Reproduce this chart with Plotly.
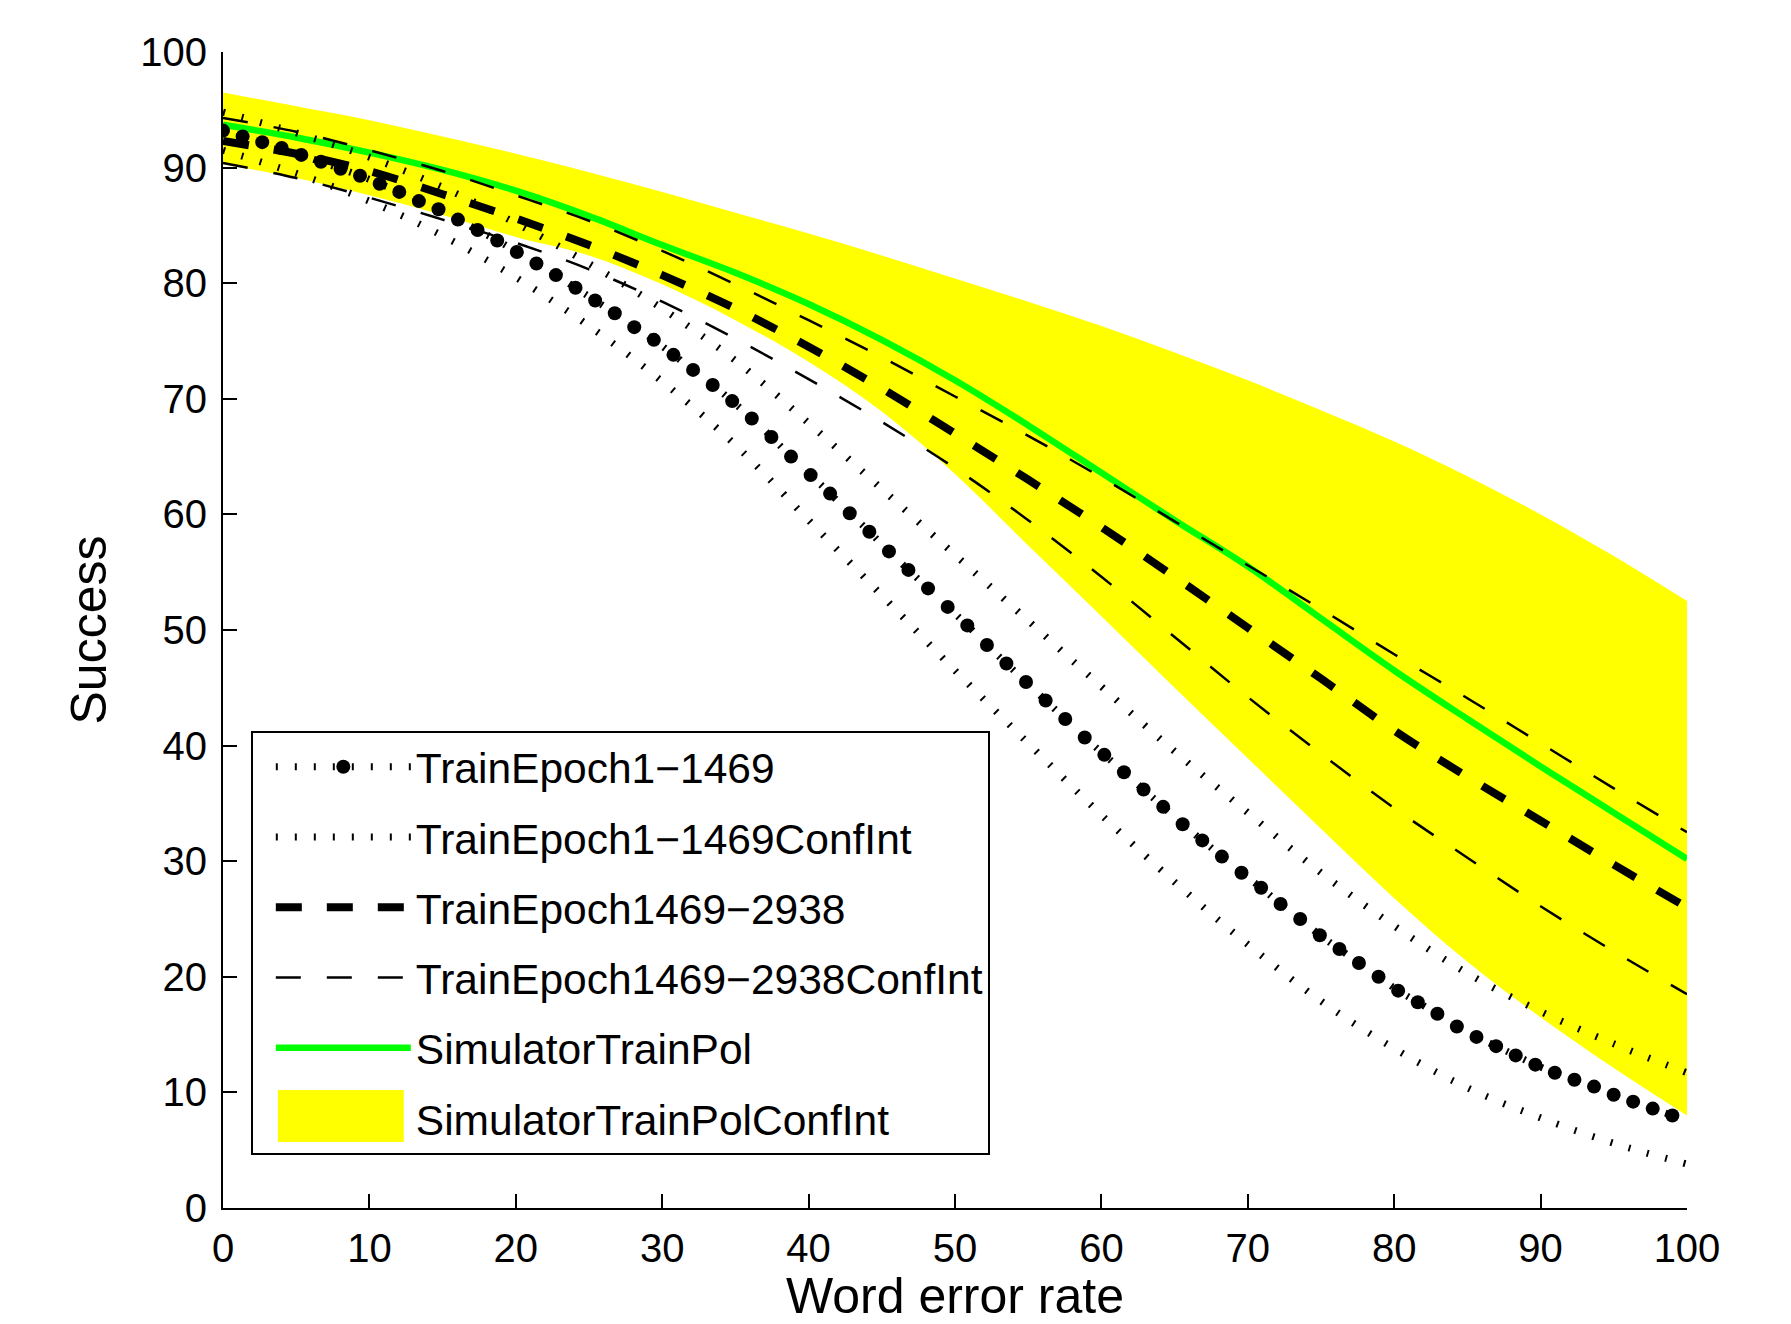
import plotly.graph_objects as go

# ---------------- data ----------------
# common x grid for the smooth curves (word error rate)
wer = [0, 5, 10, 15, 20, 25, 30, 35, 40, 45, 50, 55, 60, 65, 70, 75, 80, 85, 90, 95, 100]

sim_mean = [93.7, 92.6, 91.3, 89.8, 88.0, 85.8, 83.3, 80.9, 78.2, 75.1, 71.6, 67.7, 63.6,
            59.5, 55.5, 51.0, 46.5, 42.3, 38.2, 34.2, 30.2]
sim_upper = [96.5, 95.3, 94.1, 92.7, 91.2, 89.6, 87.9, 86.1, 84.3, 82.4, 80.4, 78.4, 76.3,
             74.0, 71.6, 69.0, 66.3, 63.3, 60.0, 56.4, 52.5]
sim_lower = [90.3, 89.1, 87.6, 85.9, 84.0, 82.4, 79.9, 76.8, 73.2, 68.9, 63.5, 57.3, 51.2,
             45.0, 38.9, 32.8, 26.8, 21.3, 16.5, 12.1, 8.0]

ep2_mean = [92.3, 91.2, 89.7, 87.7, 85.6, 83.3, 80.7, 77.8, 74.5, 70.9, 67.0, 63.0, 58.9,
            54.6, 50.2, 45.8, 41.3, 37.3, 33.5, 29.7, 26.0]
ep2_upper = [94.3, 93.1, 91.5, 89.7, 87.6, 85.4, 82.8, 79.9, 76.8, 73.6, 70.2, 66.8, 63.2,
             59.4, 55.6, 51.8, 47.9, 44.1, 40.2, 36.3, 32.5]
ep2_lower = [90.4, 89.1, 87.4, 85.5, 83.5, 81.2, 78.4, 75.2, 71.7, 68.0, 64.0, 59.5, 54.6,
             49.4, 44.2, 39.3, 34.6, 30.3, 26.1, 22.2, 18.5]

ep1_upper = [94.8, 93.0, 90.9, 88.3, 85.2, 81.7, 77.8, 73.3, 67.9, 62.2, 56.5, 50.8, 45.1,
             39.5, 34.2, 29.0, 24.4, 20.3, 17.0, 14.2, 11.7]
ep1_lower = [91.5, 89.5, 87.1, 84.1, 80.5, 76.3, 71.5, 66.0, 59.5, 53.0, 46.5, 40.2, 34.0,
             28.2, 22.8, 17.9, 13.8, 10.4, 7.8, 5.6, 3.8]

# sampled points of the first-epoch mean curve (one per marker)
ep1_x = [0.00, 1.34, 2.68, 4.01, 5.35, 6.69, 8.03, 9.36, 10.70, 12.04, 13.38, 14.72, 16.05,
         17.39, 18.73, 20.07, 21.41, 22.74, 24.08, 25.42, 26.76, 28.09, 29.43, 30.77, 32.11,
         33.45, 34.78, 36.12, 37.46, 38.80, 40.14, 41.47, 42.81, 44.15, 45.49, 46.82, 48.16,
         49.50, 50.84, 52.18, 53.51, 54.85, 56.19, 57.53, 58.86, 60.20, 61.54, 62.88, 64.22,
         65.55, 66.89, 68.23, 69.57, 70.91, 72.24, 73.58, 74.92, 76.26, 77.59, 78.93, 80.27,
         81.61, 82.95, 84.28, 85.62, 86.96, 88.30, 89.64, 90.97, 92.31, 93.65, 94.99, 96.32,
         97.66, 99.00]
ep1_mean = [93.2, 92.7, 92.2, 91.7, 91.1, 90.5, 89.9, 89.3, 88.6, 87.9, 87.1, 86.4, 85.5,
            84.6, 83.7, 82.7, 81.7, 80.7, 79.6, 78.5, 77.4, 76.2, 75.1, 73.8, 72.5, 71.2,
            69.8, 68.3, 66.7, 65.0, 63.4, 61.8, 60.1, 58.5, 56.8, 55.2, 53.6, 52.0, 50.4,
            48.7, 47.1, 45.5, 43.9, 42.3, 40.7, 39.2, 37.7, 36.2, 34.7, 33.2, 31.8, 30.4,
            29.0, 27.7, 26.3, 25.0, 23.6, 22.4, 21.2, 20.0, 18.8, 17.8, 16.8, 15.7, 14.8,
            14.0, 13.2, 12.4, 11.7, 11.1, 10.5, 9.8, 9.2, 8.6, 8.0]

names = ["TrainEpoch1\u22121469", "TrainEpoch1\u22121469ConfInt", "TrainEpoch1469\u22122938",
         "TrainEpoch1469\u22122938ConfInt", "SimulatorTrainPol", "SimulatorTrainPolConfInt"]

x_ticks = [0, 10, 20, 30, 40, 50, 60, 70, 80, 90, 100]
y_ticks = [0, 10, 20, 30, 40, 50, 60, 70, 80, 90, 100]

# ---------------- styles ----------------
YELLOW = "#FFFF00"
GREEN = "#00FF00"
BLACK = "#000000"
DOT = "2px,17px"
THIN_DASH = "25px,26px"
BOLD_DASH = "26px,25px"
FONT = "Liberation Sans, Arial, Helvetica, sans-serif"

fig = go.Figure()

# yellow confidence band of the simulator policy
fig.add_trace(go.Scatter(x=wer, y=sim_upper, mode="lines", line=dict(width=0, color=YELLOW, shape="spline"),
                         showlegend=False, hoverinfo="skip", legendgroup="g6"))
fig.add_trace(go.Scatter(x=wer, y=sim_lower, mode="lines", line=dict(width=0, color=YELLOW, shape="spline"),
                         fill="tonexty", fillcolor=YELLOW, name=names[5], legendgroup="g6",
                         showlegend=False))
# legend-only entry for the band (its swatch is the yellow panel shape below)
fig.add_trace(go.Scatter(x=[None], y=[None], mode="lines", name=names[5], legendgroup="g6",
                         line=dict(color=YELLOW, width=0), legendrank=6))

# simulator mean
fig.add_trace(go.Scatter(x=wer, y=sim_mean, mode="lines", name=names[4], legendgroup="g5",
                         line=dict(color=GREEN, width=6.5, shape="spline"), legendrank=5))

# second training epoch block
fig.add_trace(go.Scatter(x=wer, y=ep2_upper, mode="lines", name=names[3], legendgroup="g4",
                         line=dict(color=BLACK, width=2.5, dash=THIN_DASH, shape="spline"),
                         legendrank=4))
fig.add_trace(go.Scatter(x=wer, y=ep2_lower, mode="lines", name=names[3], legendgroup="g4",
                         showlegend=False,
                         line=dict(color=BLACK, width=2.5, dash=THIN_DASH, shape="spline")))
fig.add_trace(go.Scatter(x=wer, y=ep2_mean, mode="lines", name=names[2], legendgroup="g3",
                         line=dict(color=BLACK, width=8, dash=BOLD_DASH, shape="spline"),
                         legendrank=3))

# first training epoch block
fig.add_trace(go.Scatter(x=wer, y=ep1_upper, mode="lines", name=names[1], legendgroup="g2",
                         line=dict(color=BLACK, width=7, dash=DOT, shape="spline"),
                         legendrank=2))
fig.add_trace(go.Scatter(x=wer, y=ep1_lower, mode="lines", name=names[1], legendgroup="g2",
                         showlegend=False,
                         line=dict(color=BLACK, width=7, dash=DOT, shape="spline")))
fig.add_trace(go.Scatter(x=ep1_x, y=ep1_mean, mode="lines+markers", name=names[0], legendgroup="g1",
                         line=dict(color=BLACK, width=7, dash=DOT, shape="spline"),
                         marker=dict(color=BLACK, size=14, symbol="circle"),
                         legendrank=1))

axis_common = dict(
    showline=True, linecolor=BLACK, linewidth=2, mirror=False,
    ticks="inside", ticklen=14, tickwidth=2, tickcolor=BLACK,
    showgrid=False, zeroline=False,
    tickfont=dict(family=FONT, size=40, color=BLACK),
)

fig.update_xaxes(range=[0, 100], tickmode="array", tickvals=x_ticks,
                 ticktext=[str(v) for v in x_ticks],
                 title=dict(text="Word error rate", font=dict(family=FONT, size=50, color=BLACK),
                            standoff=8),
                 ticklabelstandoff=4, **axis_common)
fig.update_yaxes(range=[0, 100], tickmode="array", tickvals=y_ticks,
                 ticktext=[str(v) for v in y_ticks],
                 title=dict(text="Success", font=dict(family=FONT, size=50, color=BLACK),
                            standoff=18),
                 ticklabelstandoff=6, **axis_common)

# legend background and the large yellow swatch of the band entry (paper coordinates)
legend_panel = dict(type="rect", xref="paper", yref="paper", layer="above",
                    x0=0.0205, x1=0.520, y0=0.052, y1=0.411,
                    fillcolor="white", line=dict(width=0))
band_swatch = dict(type="rect", xref="paper", yref="paper", layer="above",
                   x0=0.0375, x1=0.1235, y0=0.057, y1=0.102,
                   fillcolor=YELLOW, line=dict(width=0))

fig.update_layout(
    width=1791, height=1324,
    margin=dict(l=223, r=104, t=52, b=116, autoexpand=False),
    paper_bgcolor="white", plot_bgcolor="white",
    font=dict(family=FONT, color=BLACK),
    showlegend=True,
    shapes=[legend_panel, band_swatch],
    legend=dict(
        x=0.019, y=0.413, xanchor="left", yanchor="top",
        bgcolor="rgba(255,255,255,0)", bordercolor=BLACK, borderwidth=2,
        font=dict(family=FONT, size=42.5, color=BLACK),
        traceorder="grouped", tracegroupgap=12, itemwidth=135, indentation=18,
    ),
)

fig.write_html("out.html", config={"displayModeBar": False},
               post_script="document.body.style.margin='0';document.body.style.overflow='hidden';")
